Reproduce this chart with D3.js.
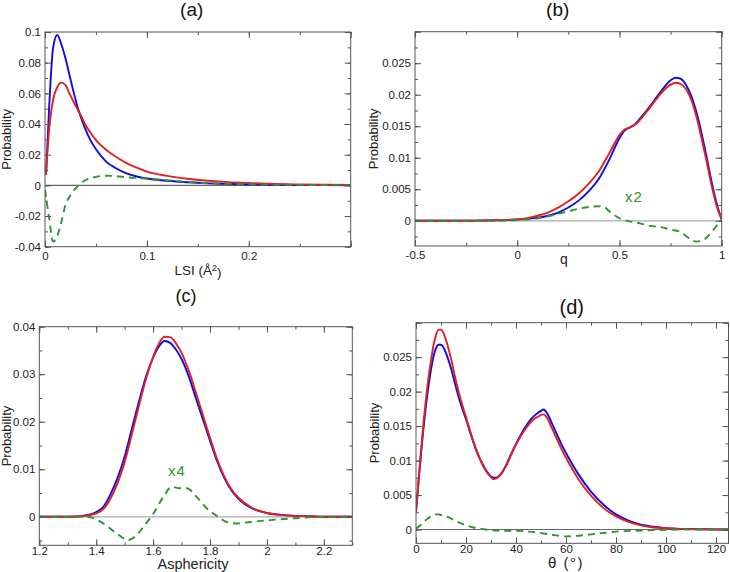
<!DOCTYPE html>
<html>
<head>
<meta charset="utf-8">
<script src="https://cdn.jsdelivr.net/npm/d3@7"></script>
<style>
  html, body { margin: 0; padding: 0; background: #fff; }
  svg { display: block; font-family: "Liberation Sans", Arial, Helvetica, sans-serif; }
</style>
</head>
<body>
<svg id="chart" width="730" height="572"></svg>
<script>
// ---------------- DATA ----------------
// Panel (a): LSI
const lsiX      = [0.001, 0.004, 0.008, 0.012, 0.016, 0.020, 0.024, 0.028, 0.032, 0.036, 0.040, 0.045, 0.050, 0.060, 0.070, 0.080, 0.090, 0.100, 0.120, 0.140, 0.160, 0.180, 0.200, 0.220, 0.250, 0.300];
const lsiBlue   = [0.007, 0.050, 0.090, 0.098, 0.092, 0.083, 0.072, 0.061, 0.051, 0.043, 0.036, 0.029, 0.0235, 0.0155, 0.0110, 0.0078, 0.0058, 0.0045, 0.0030, 0.0020, 0.0013, 0.0009, 0.0006, 0.0004, 0.0002, 0.0001];
const lsiRed    = [0.007, 0.036, 0.056, 0.064, 0.067, 0.0655, 0.060, 0.0545, 0.0495, 0.0445, 0.039, 0.034, 0.0295, 0.0232, 0.0185, 0.0145, 0.0115, 0.0090, 0.0062, 0.0043, 0.0030, 0.0021, 0.0015, 0.0010, 0.0006, 0.0002];
const lsiGreenX = [0.000, 0.004, 0.008, 0.012, 0.016, 0.020, 0.025, 0.030, 0.035, 0.040, 0.050, 0.060, 0.070, 0.080, 0.100, 0.120, 0.150, 0.200, 0.250, 0.300];
const lsiGreen  = [-0.003, -0.021, -0.0366, -0.033, -0.024, -0.013, -0.0065, -0.002, 0.0012, 0.0035, 0.0055, 0.0063, 0.0060, 0.0053, 0.0044, 0.0033, 0.0018, 0.0007, 0.0003, 0.0001];

// Panel (b): q
const qX      = [-0.5, -0.3, -0.2, -0.1, 0.0, 0.05, 0.1, 0.15, 0.2, 0.25, 0.3, 0.35, 0.4, 0.45, 0.5, 0.525, 0.55, 0.575, 0.6, 0.65, 0.7, 0.75, 0.775, 0.8, 0.825, 0.85, 0.875, 0.9, 0.925, 0.95, 0.975, 1.0];
const qBlue   = [0, 0, 0.00002, 0.00008, 0.0002, 0.0003, 0.0005, 0.0008, 0.0013, 0.0021, 0.0032, 0.0047, 0.0067, 0.0097, 0.0131, 0.0143, 0.0148, 0.0153, 0.0162, 0.0182, 0.0204, 0.0223, 0.0227, 0.0225, 0.0216, 0.0199, 0.0174, 0.0141, 0.0103, 0.0063, 0.0028, 0.0002];
const qRed    = [0, 0, 0.00003, 0.0001, 0.0002, 0.0004, 0.0008, 0.0013, 0.0021, 0.0031, 0.0043, 0.0059, 0.0079, 0.0107, 0.0136, 0.0145, 0.0148, 0.0152, 0.0160, 0.0180, 0.0201, 0.0216, 0.0219, 0.0217, 0.0209, 0.0193, 0.0167, 0.0133, 0.0096, 0.0057, 0.0024, 0.0002];
const qGreenX = [-0.5, -0.1, 0.0, 0.1, 0.2, 0.25, 0.3, 0.35, 0.4, 0.425, 0.45, 0.475, 0.5, 0.55, 0.6, 0.65, 0.7, 0.75, 0.8, 0.825, 0.85, 0.875, 0.9, 0.925, 0.95, 0.975, 1.0];
const qGreen  = [0, 0, 0.0001, 0.0004, 0.0011, 0.0015, 0.0019, 0.0022, 0.0023, 0.0022, 0.0015, 0.0009, 0.0004, -0.0001, -0.0004, -0.0008, -0.0010, -0.0014, -0.0018, -0.0024, -0.0030, -0.0033, -0.0032, -0.0027, -0.0018, -0.0008, 0.0001];

// Panel (c): Asphericity
const aspX      = [1.2, 1.3, 1.35, 1.4, 1.425, 1.45, 1.475, 1.5, 1.525, 1.55, 1.575, 1.6, 1.62, 1.64, 1.66, 1.68, 1.7, 1.725, 1.75, 1.775, 1.8, 1.825, 1.85, 1.875, 1.9, 1.95, 2.0, 2.05, 2.1, 2.15, 2.2, 2.3];
const aspBlue   = [0, 0, 0.0002, 0.0010, 0.0021, 0.0047, 0.0082, 0.0127, 0.0185, 0.0242, 0.0295, 0.0335, 0.0358, 0.0370, 0.0366, 0.0352, 0.0332, 0.0296, 0.0250, 0.0205, 0.0160, 0.0117, 0.0082, 0.0056, 0.0038, 0.0017, 0.0008, 0.0004, 0.0002, 0.0001, 0, 0];
const aspRed    = [0, 0, 0.0001, 0.0007, 0.0016, 0.0038, 0.0071, 0.0115, 0.0173, 0.0233, 0.0290, 0.0336, 0.0364, 0.0379, 0.0378, 0.0365, 0.0345, 0.0308, 0.0262, 0.0214, 0.0166, 0.0121, 0.0085, 0.0058, 0.0040, 0.0018, 0.0008, 0.0004, 0.0002, 0.0001, 0, 0];
const aspGreenX = [1.2, 1.35, 1.378, 1.425, 1.472, 1.513, 1.536, 1.566, 1.601, 1.636, 1.665, 1.695, 1.718, 1.753, 1.788, 1.829, 1.859, 1.894, 1.941, 2.011, 2.1, 2.2, 2.3];
const aspGreen  = [0, 0, -0.0001, -0.0014, -0.0035, -0.0049, -0.0042, -0.0021, 0.0007, 0.0042, 0.0063, 0.0060, 0.0060, 0.0042, 0.0018, 0.0, -0.0011, -0.0014, -0.0011, -0.0007, -0.0003, 0, 0];

// Panel (d): theta
const thX      = [0, 1, 2, 3, 4, 5, 6, 7, 8, 9, 10, 11, 12, 14, 16, 18, 20, 22, 24, 26, 28, 30, 31, 32, 34, 36, 38, 40, 42, 44, 46, 48, 50, 51, 52, 53, 54, 55, 56, 57, 58, 60, 62, 65, 70, 75, 80, 85, 90, 95, 100, 110, 120, 125];
const thBlue   = [0.0025, 0.0068, 0.0110, 0.0147, 0.0180, 0.0208, 0.0232, 0.0251, 0.0263, 0.0268, 0.0268, 0.0264, 0.0256, 0.0234, 0.0206, 0.0181, 0.0160, 0.0137, 0.0116, 0.0099, 0.0086, 0.0077, 0.0075, 0.0075, 0.0081, 0.0093, 0.0109, 0.0124, 0.0138, 0.0150, 0.0160, 0.0167, 0.0172, 0.0174, 0.0171, 0.0165, 0.0157, 0.0149, 0.0141, 0.0133, 0.0125, 0.0111, 0.0098, 0.0080, 0.0055, 0.0036, 0.0022, 0.0013, 0.0007, 0.0004, 0.0002, 0.00007, 0.00002, 0];
const thRed    = [0.0026, 0.0070, 0.0115, 0.0155, 0.0190, 0.0220, 0.0245, 0.0267, 0.0282, 0.0290, 0.0290, 0.0285, 0.0275, 0.0248, 0.0215, 0.0187, 0.0163, 0.0139, 0.0117, 0.0099, 0.0085, 0.0076, 0.0073, 0.0074, 0.0080, 0.0092, 0.0108, 0.0123, 0.0136, 0.0147, 0.0156, 0.0162, 0.0166, 0.0167, 0.0164, 0.0158, 0.0150, 0.0142, 0.0134, 0.0126, 0.0118, 0.0104, 0.0091, 0.0073, 0.0049, 0.0031, 0.0019, 0.0011, 0.0006, 0.0003, 0.0002, 0.00005, 0, 0];
const thGreenX = [0, 2, 4, 6, 8, 9, 10, 12, 14, 16, 18, 20, 22, 24, 26, 28, 30, 35, 40, 45, 50, 55, 60, 65, 70, 75, 80, 90, 100, 110, 125];
const thGreen  = [0.0001, 0.0007, 0.0014, 0.0019, 0.0022, 0.0022, 0.0021, 0.0019, 0.0016, 0.0012, 0.0009, 0.0006, 0.0004, 0.0002, 0.0001, 0, -0.0001, -0.0002, -0.0002, -0.0003, -0.0005, -0.0008, -0.0010, -0.0009, -0.0007, -0.0005, -0.0003, -0.00015, -0.00005, 0, 0];

// Tick labels
const aXTicks = [0, 0.1, 0.2];
const aYTicks = [-0.04, -0.02, 0, 0.02, 0.04, 0.06, 0.08, 0.1];
const bXTicks = [-0.5, 0, 0.5, 1];
const bYTicks = [0, 0.005, 0.01, 0.015, 0.02, 0.025];
const cXTicks = [1.2, 1.4, 1.6, 1.8, 2, 2.2];
const cYTicks = [0, 0.01, 0.02, 0.03, 0.04];
const dXTicks = [0, 20, 40, 60, 80, 100, 120];
const dYTicks = [0, 0.005, 0.01, 0.015, 0.02, 0.025];

// ---------------- DRAW ----------------
const svg = d3.select("#chart");
const BLUE = "#0c0ce6", RED = "#e3201f", GREEN = "#2f952f";
const fmt = v => String(+v.toFixed(6));

function zip(xs, ys) { return xs.map((x, i) => [x, ys[i]]); }

function panel(o) {
  const g = svg.append("g");
  const x = d3.scaleLinear().domain(o.xDomain).range([o.left, o.right]);
  const y = d3.scaleLinear().domain(o.yDomain).range([o.bottom, o.top]);

  // zero line
  g.append("line")
    .attr("x1", o.left).attr("x2", o.right)
    .attr("y1", y(0)).attr("y2", y(0))
    .attr("stroke", o.zeroColor).attr("stroke-width", 1.2);

  const clipId = "clip" + o.id;
  svg.append("clipPath").attr("id", clipId).append("rect")
    .attr("x", o.left).attr("y", o.top).attr("width", o.right - o.left).attr("height", o.bottom - o.top);

  const line = d3.line().x(d => x(d[0])).y(d => y(d[1])).curve(d3.curveMonotoneX);
  const lg = g.append("g").attr("clip-path", `url(#${clipId})`);
  lg.append("path").attr("d", line(zip(o.xs, o.blue))).attr("fill", "none")
    .attr("stroke", BLUE).attr("stroke-width", 1.9).attr("stroke-linejoin", "round");
  lg.append("path").attr("d", line(zip(o.xs, o.red))).attr("fill", "none")
    .attr("stroke", RED).attr("stroke-width", 1.9).attr("stroke-linejoin", "round");
  lg.append("path").attr("d", line(zip(o.gx, o.green))).attr("fill", "none")
    .attr("stroke", GREEN).attr("stroke-width", 1.9).attr("stroke-dasharray", "7,5");

  // axes (inward ticks on all four sides)
  const tickStyle = sel => {
    sel.select(".domain").remove();
    sel.selectAll(".tick line").attr("stroke", "#555");
    sel.selectAll(".tick text").attr("fill", "#222").style("font-size", "11.5px")
      .style("font-family", '"Liberation Sans", Arial, Helvetica, sans-serif');
  };
  const xMinor = d3.range(o.xDomain[0], o.xDomain[1] + 1e-9, o.xMinor);
  const yMinor = d3.range(Math.ceil(o.yDomain[0] / o.yMinor - 1e-9) * o.yMinor, o.yDomain[1] + 1e-9, o.yMinor);
  const xMajor = d3.range(o.xDomain[0], o.xDomain[1] + 1e-9, o.xMajor);
  const yMajor = d3.range(Math.ceil(o.yDomain[0] / o.yMajor - 1e-9) * o.yMajor, o.yDomain[1] + 1e-9, o.yMajor);

  const defs = [
    [d3.axisBottom, `translate(0,${o.bottom})`, x],
    [d3.axisTop, `translate(0,${o.top})`, x],
    [d3.axisLeft, `translate(${o.left},0)`, y],
    [d3.axisRight, `translate(${o.right},0)`, y]
  ];
  defs.forEach(([fn, tr, sc], i) => {
    const isX = i < 2;
    g.append("g").attr("transform", tr)
      .call(fn(sc).tickValues(isX ? xMinor : yMinor).tickSize(-3).tickFormat(""))
      .call(tickStyle);
    g.append("g").attr("transform", tr)
      .call(fn(sc).tickValues(isX ? xMajor : yMajor).tickSize(-6).tickFormat(""))
      .call(tickStyle);
  });
  // labels
  g.append("g").attr("transform", `translate(0,${o.bottom})`)
    .call(d3.axisBottom(x).tickValues(o.xTicks).tickSize(0).tickPadding(o.xPad).tickFormat(fmt))
    .call(tickStyle);
  g.append("g").attr("transform", `translate(${o.left},0)`)
    .call(d3.axisLeft(y).tickValues(o.yTicks).tickSize(0).tickPadding(4).tickFormat(fmt))
    .call(tickStyle);

  // frame
  g.append("rect").attr("x", o.left).attr("y", o.top)
    .attr("width", o.right - o.left).attr("height", o.bottom - o.top)
    .attr("fill", "none").attr("stroke", "#555").attr("stroke-width", 1);

  // title
  g.append("text").attr("x", o.titleX).attr("y", o.titleY).attr("text-anchor", "middle")
    .style("font-size", o.titleSize + "px").attr("fill", "#111").text(o.title);

  // y label
  g.append("text")
    .attr("transform", `translate(${o.yLabX},${(o.top + o.bottom) / 2}) rotate(-90)`)
    .attr("text-anchor", "middle").style("font-size", "13px").attr("fill", "#222")
    .text("Probability");

  // x label
  const xl = g.append("text").attr("x", o.xLabX).attr("y", o.xLabY).attr("text-anchor", "middle")
    .style("font-size", o.xLabSize + "px").attr("fill", "#222");
  o.xLabel(xl);

  if (o.note) {
    g.append("text").attr("x", o.note.x).attr("y", o.note.y).attr("text-anchor", "middle")
      .style("font-size", "15px").attr("fill", GREEN).attr("letter-spacing", "1px").text(o.note.t);
  }
  return g;
}

panel({
  id: "a", left: 45, right: 350.7, top: 32, bottom: 246.7,
  xDomain: [0, 0.3], yDomain: [-0.04, 0.1], xMajor: 0.1, xMinor: 0.05, yMajor: 0.02, yMinor: 0.01,
  xTicks: aXTicks, yTicks: aYTicks, xPad: 5,
  xs: lsiX, blue: lsiBlue, red: lsiRed, gx: lsiGreenX, green: lsiGreen,
  zeroColor: "#666",
  title: "(a)", titleX: 191.7, titleY: 16, titleSize: 19,
  yLabX: 11, xLabX: 198, xLabY: 275, xLabSize: 13.5,
  xLabel: t => { t.append("tspan").text("LSI (Å");
                 t.append("tspan").attr("dy", "-0.45em").style("font-size", "9px").text("2");
                 t.append("tspan").attr("dy", "0.45em").text(")"); }
});

panel({
  id: "b", left: 415, right: 721.7, top: 31.7, bottom: 246,
  xDomain: [-0.5, 1], yDomain: [-0.004, 0.03], xMajor: 0.5, xMinor: 0.25, yMajor: 0.005, yMinor: 0.0025,
  xTicks: bXTicks, yTicks: bYTicks, xPad: 5,
  xs: qX, blue: qBlue, red: qRed, gx: qGreenX, green: qGreen,
  zeroColor: "#aaa",
  title: "(b)", titleX: 557.7, titleY: 16, titleSize: 19,
  yLabX: 378, xLabX: 564, xLabY: 264, xLabSize: 14,
  xLabel: t => t.text("q"),
  note: { x: 634, y: 202, t: "x2" }
});

panel({
  id: "c", left: 39.3, right: 352.3, top: 326.7, bottom: 545.3,
  xDomain: [1.2, 2.3], yDomain: [-0.006, 0.04], xMajor: 0.2, xMinor: 0.1, yMajor: 0.01, yMinor: 0.005,
  xTicks: cXTicks, yTicks: cYTicks, xPad: 2,
  xs: aspX, blue: aspBlue, red: aspRed, gx: aspGreenX, green: aspGreen,
  zeroColor: "#aaa",
  title: "(c)", titleX: 186, titleY: 302, titleSize: 18,
  yLabX: 11, xLabX: 193, xLabY: 568.5, xLabSize: 14.5,
  xLabel: t => t.text("Asphericity"),
  note: { x: 177, y: 476, t: "x4" }
});

panel({
  id: "d", left: 416, right: 728.5, top: 322.7, bottom: 543.3,
  xDomain: [0, 125], yDomain: [-0.002, 0.03], xMajor: 20, xMinor: 10, yMajor: 0.005, yMinor: 0.0025,
  xTicks: dXTicks, yTicks: dYTicks, xPad: 2,
  xs: thX, blue: thBlue, red: thRed, gx: thGreenX, green: thGreen,
  zeroColor: "#666",
  title: "(d)", titleX: 571.7, titleY: 314, titleSize: 20,
  yLabX: 379, xLabX: 566, xLabY: 567.5, xLabSize: 15,
  xLabel: t => t.attr("letter-spacing", "1.5px").text("θ (°)")
});
</script>
</body>
</html>
